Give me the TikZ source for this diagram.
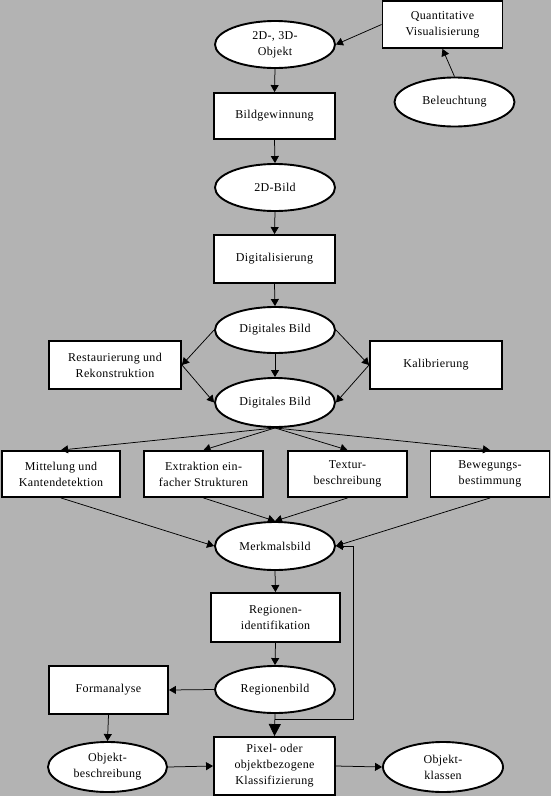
\documentclass[tikz,border=0pt]{standalone}
\usepackage{fontspec}
\setmainfont{Liberation Serif}[LetterSpace=3]
\usetikzlibrary{arrows.meta,shapes.geometric}
\definecolor{bggray}{RGB}{179,179,179}
\begin{document}
\begin{tikzpicture}[x=1pt,y=-1pt,
  every node/.style={font=\fontsize{12}{16}\selectfont, align=center, inner sep=0pt, fill=white, draw=black, line width=1.9pt},
  boxn/.style={rectangle},
  ell/.style={ellipse},
  arr/.style={line width=0.75pt, -{Triangle[length=7pt,width=8pt]}},
  bigarr/.style={line width=0.75pt, -{Triangle[length=12pt,width=12pt]}}
]
\fill[bggray] (0,0) rectangle (551,796);
\useasboundingbox (0,0) rectangle (551,796);

\node[ell, minimum width=120pt, minimum height=47pt] (obj) at (275,44.5) {2D-, 3D-\\Objekt};
\node[boxn, minimum width=120pt, minimum height=47pt] (quant) at (442.5,24.5) {Quantitative\\Visualisierung};
\node[ell, minimum width=120pt, minimum height=49pt] (bel) at (454.5,102) {Beleuchtung};
\node[boxn, minimum width=121pt, minimum height=46pt] (bild) at (274.5,116) {Bildgewinnung};
\node[ell, minimum width=120pt, minimum height=47pt] (bild2d) at (275,187.5) {2D-Bild};
\node[boxn, minimum width=121pt, minimum height=48pt] (digit) at (274.5,259) {Digitalisierung};
\node[ell, minimum width=120pt, minimum height=46pt] (db1) at (275,330) {Digitales Bild};
\node[boxn, minimum width=132pt, minimum height=48pt] (restau) at (115,365) {Restaurierung und\\Rekonstruktion};
\node[boxn, minimum width=132pt, minimum height=48pt] (kalib) at (436,365) {Kalibrierung};
\node[ell, minimum width=120pt, minimum height=49pt] (db2) at (275,402.5) {Digitales Bild};
\node[boxn, minimum width=118pt, minimum height=46pt] (mittel) at (61,474) {Mittelung und\\Kantendetektion};
\node[boxn, minimum width=119pt, minimum height=46pt] (extr) at (203.5,474) {Extraktion ein-\\facher Strukturen};
\node[boxn, minimum width=119pt, minimum height=46pt] (textur) at (347.5,474) {Textur-\\beschreibung};
\node[boxn, minimum width=119pt, minimum height=46pt] (beweg) at (490,474) {Bewegungs-\\bestimmung};
\node[ell, minimum width=120pt, minimum height=48pt] (merkmal) at (275,546) {Merkmalsbild};
\node[boxn, minimum width=129pt, minimum height=49pt] (regid) at (275.5,617.5) {Regionen-\\identifikation};
\node[ell, minimum width=120pt, minimum height=47pt] (regbild) at (275,689.5) {Regionenbild};
\node[boxn, minimum width=119pt, minimum height=48pt] (form) at (108.5,690) {Formanalyse};
\node[ell, minimum width=119pt, minimum height=50pt] (objb) at (107.5,767) {Objekt-\\beschreibung};
\node[boxn, minimum width=121pt, minimum height=58pt] (pixel) at (274.5,766) {Pixel- oder\\objektbezogene\\Klassifizierung};
\node[ell, minimum width=120pt, minimum height=50pt] (objk) at (443,767) {Objekt-\\klassen};

\coordinate (fb) at (353,719);

\draw[arr] (quant.west) -- (obj.east);
\draw[arr] (bel.north) -- (quant.south);
\draw[arr] (obj.south) -- (bild.north);
\draw[arr] (bild.south) -- (bild2d.north);
\draw[arr] (bild2d.south) -- (digit.north);
\draw[arr] (digit.south) -- (db1.north);
\draw[arr] (db1.south) -- (db2.north);
\draw[arr] (db1.west) -- (restau.east);
\draw[arr] (restau.east) -- (db2.west);
\draw[arr] (db1.east) -- (kalib.west);
\draw[arr] (kalib.west) -- (db2.east);
\draw[arr] (db2.south) -- (mittel.north);
\draw[arr] (db2.south) -- (extr.north);
\draw[arr] (db2.south) -- (textur.north);
\draw[arr] (db2.south) -- (beweg.north);
\draw[arr] (mittel.south) -- (merkmal.west);
\draw[arr] (extr.south) -- (merkmal.north);
\draw[arr] (textur.south) -- (merkmal.north);
\draw[arr] (beweg.south) -- (merkmal.east);
\draw[arr] (merkmal.south) -- (regid.north);
\draw[arr] (regid.south) -- (regbild.north);
\draw[arr] (regbild.west) -- (form.east);
\draw[arr] (form.south) -- (objb.north);
\draw[arr] (objb.east) -- (pixel.west);
\draw[arr] (pixel.east) -- (objk.west);
\draw[bigarr] (regbild.south) -- (pixel.north);
\draw[arr] (regbild.south |- fb) -- (fb) |- (merkmal.east);
\end{tikzpicture}
\end{document}
